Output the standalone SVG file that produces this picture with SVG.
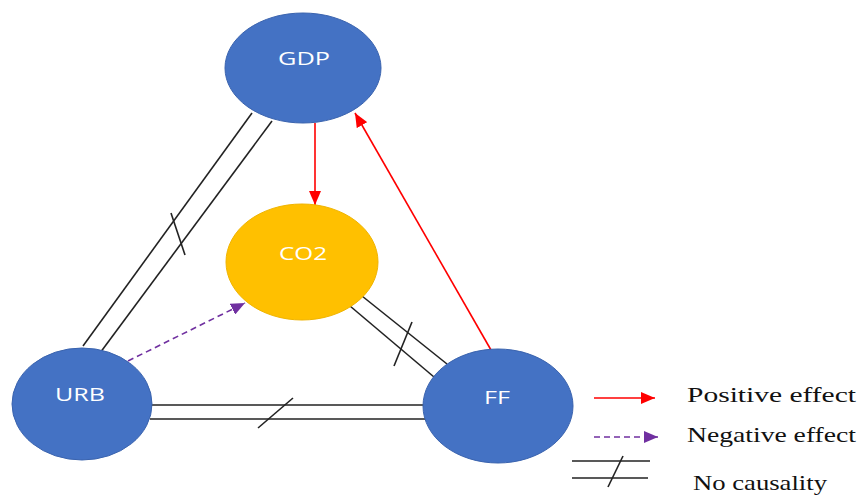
<svg xmlns="http://www.w3.org/2000/svg" width="862" height="497" viewBox="0 0 862 497">
<style>
.node{fill:#4472C4;stroke:#3A63AE;stroke-width:1}
.co2{fill:#FFC000;stroke:#F0B400;stroke-width:1}
.lbl{font-family:"Open Sans","Liberation Sans",sans-serif;font-size:18px;fill:#FFFFFF;text-anchor:middle}
.nc{stroke:#222;stroke-width:1.6;fill:none}
.pos{stroke:#FF0000;stroke-width:1.6;fill:none}
.neg{stroke:#7030A0;stroke-width:1.6;fill:none;stroke-dasharray:6 4}
.leg{font-family:"Liberation Serif","Times New Roman",serif;font-size:22px;fill:#111}
</style>
<defs>
<marker id="ar" viewBox="0 0 10 10" refX="10" refY="5" markerWidth="7" markerHeight="7" markerUnits="userSpaceOnUse" orient="auto"><path d="M0,0 L10,5 L0,10 z" fill="#FF0000"/></marker>
<marker id="ar2" markerWidth="14" markerHeight="12" refX="14" refY="6" markerUnits="userSpaceOnUse" orient="auto"><path d="M0,0 L14,6 L0,12 z" fill="#FF0000"/></marker>
<marker id="ap" markerWidth="14" markerHeight="12" refX="14" refY="6" markerUnits="userSpaceOnUse" orient="auto"><path d="M0,0 L14,6 L0,12 z" fill="#7030A0"/></marker>
</defs>
<g id="connectors">
<line class="nc" x1="252" y1="113" x2="83" y2="346"/>
<line class="nc" x1="272" y1="121" x2="100" y2="353"/>
<line class="nc" x1="171" y1="213" x2="185" y2="255"/>
<line class="nc" x1="362" y1="296" x2="447" y2="364"/>
<line class="nc" x1="350" y1="306" x2="434" y2="377"/>
<line class="nc" x1="412" y1="322" x2="394" y2="366"/>
<line class="nc" x1="150" y1="405" x2="426" y2="405"/>
<line class="nc" x1="150" y1="419" x2="426" y2="419"/>
<line class="nc" x1="258" y1="428" x2="293" y2="398"/>
<line class="pos" x1="315" y1="123" x2="315" y2="205" marker-end="url(#ar2)"/>
<line class="pos" x1="491" y1="350" x2="355" y2="113" marker-end="url(#ar2)"/>
<line class="neg" x1="128" y1="361" x2="245" y2="303" marker-end="url(#ap)"/>
</g>
<g id="GDP"><ellipse class="node" cx="303" cy="68" rx="78" ry="55"/><text class="lbl" x="304" y="65" textLength="52" lengthAdjust="spacingAndGlyphs">GDP</text></g>
<g id="CO2"><ellipse class="co2" cx="302" cy="262" rx="76" ry="58"/><text class="lbl" x="303" y="260" textLength="48" lengthAdjust="spacingAndGlyphs">CO2</text></g>
<g id="URB"><ellipse class="node" cx="82" cy="404" rx="70" ry="56"/><text class="lbl" x="80" y="401" textLength="50" lengthAdjust="spacingAndGlyphs">URB</text></g>
<g id="FF"><ellipse class="node" cx="498" cy="406" rx="75" ry="57"/><text class="lbl" x="497" y="404" textLength="26" lengthAdjust="spacingAndGlyphs">FF</text></g>
<g id="legend">
<line class="pos" x1="594" y1="398" x2="655" y2="398" marker-end="url(#ar2)"/>
<text class="leg" x="687" y="402" textLength="169" lengthAdjust="spacingAndGlyphs">Positive effect</text>
<line class="neg" x1="594" y1="437" x2="658" y2="437" stroke-dasharray="5 4" marker-end="url(#ap)"/>
<text class="leg" x="687" y="442" textLength="169" lengthAdjust="spacingAndGlyphs">Negative effect</text>
<line class="nc" x1="572" y1="461" x2="650" y2="461"/>
<line class="nc" x1="572" y1="478" x2="648" y2="478"/>
<line class="nc" x1="608" y1="487" x2="623" y2="456"/>
<text class="leg" x="693" y="490" textLength="134" lengthAdjust="spacingAndGlyphs">No causality</text>
</g>
</svg>
